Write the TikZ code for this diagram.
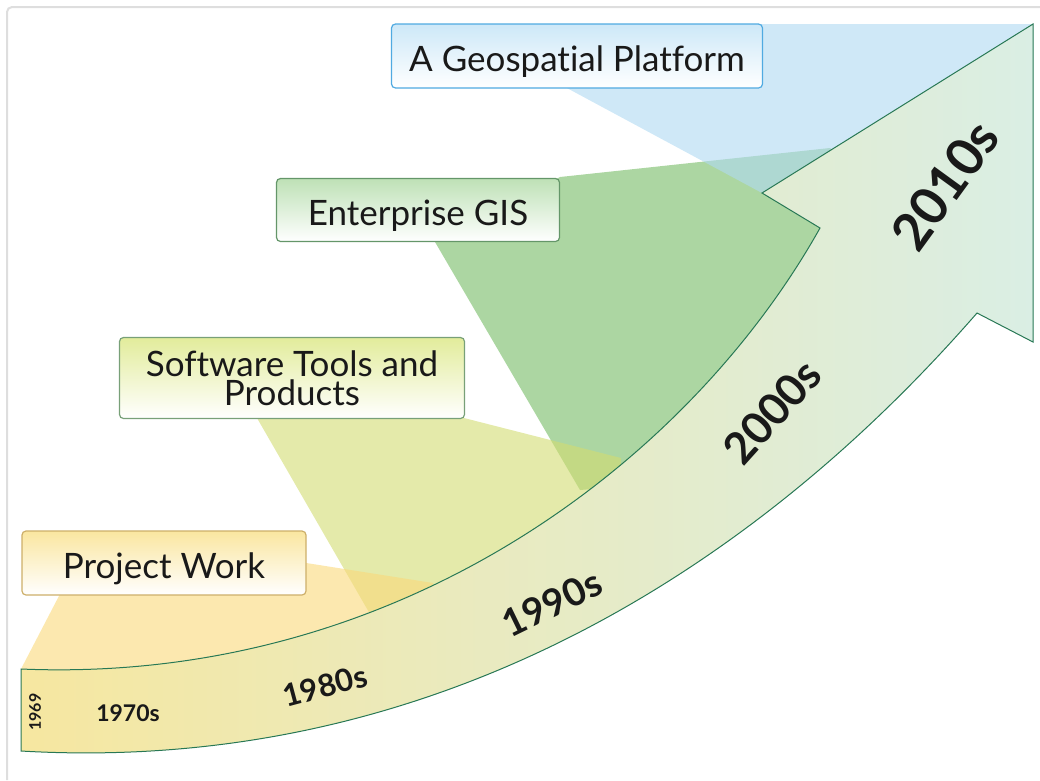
\documentclass[tikz,border=0pt]{standalone}
\usepackage{fontspec}
\setmainfont{Lato}[Ligatures=NoCommon]
\definecolor{framegray}{RGB}{222,222,222}
\definecolor{fanAmber}{RGB}{250,217,122}
\definecolor{fanLime}{RGB}{210,220,113}
\definecolor{fanGreen}{RGB}{117,187,100}
\definecolor{fanBlue}{RGB}{175,217,242}
\definecolor{arrowTail}{RGB}{246,231,160}
\definecolor{arrowMid}{RGB}{233,234,200}
\definecolor{arrowHead}{RGB}{218,238,228}
\definecolor{arrowEdge}{RGB}{40,120,85}
\definecolor{pwEdge}{RGB}{205,175,105}
\definecolor{pwTint}{RGB}{250,230,160}
\definecolor{stpEdge}{RGB}{120,160,120}
\definecolor{stpTint}{RGB}{226,236,155}
\definecolor{egisEdge}{RGB}{100,150,105}
\definecolor{egisTint}{RGB}{190,225,182}
\definecolor{geoEdge}{RGB}{80,170,225}
\definecolor{geoTint}{RGB}{205,232,248}
\tikzset{
	stagebox/.style = {rounded corners=4pt, line width=1.2pt, align=center, inner sep=0pt, text=black!90, font=\fontsize{35}{29}\selectfont},
	oneline/.style = {text height=30pt, text depth=0pt},
	decade/.style = {inner sep=0pt, text=black!90, font=\bfseries\fontsize{#1}{#1}\selectfont},
	fan/.style = {fill opacity=0.6}
}

\begin{document}
\begin{tikzpicture}[x=1pt, y=-1pt]
		\useasboundingbox (0,0) rectangle (1040,780);
		\draw[framegray, line width=2pt, rounded corners=5pt] (7,780) -- (7,7) -- (1040,7);
		% fans, drawn under the arrow
		\fill[fan, fanGreen] (435,242) -- (560,177) -- (830,148) -- (900,200) -- (700,480) -- (580,490) -- cycle;
		\fill[fan, fanBlue] (565,87) -- (762,193) -- (900,200) -- (1033,200) -- (1033,24) -- (762,24) -- cycle;
		\fill[fan, fanLime] (257,418) -- (370,614) -- (400,650) -- (620,520) -- (621,458) -- (464,418) -- cycle;
		\fill[fan, fanAmber] (60,594) -- (21,669) -- (21,720) -- (440,640) -- (433,583) -- (300,562) -- cycle;
		% the arrow
		\shadedraw[left color=arrowTail, middle color=arrowMid, right color=arrowHead, draw=arrowEdge, line width=1pt]
			(21,669) .. controls (400,685) and (690,460) .. (820,228) -- (762,193) -- (1033,24)
			-- (1033,342) -- (977,313) .. controls (840,470) and (520,780) .. (21,751) -- cycle;
		% stages
		\node[stagebox, oneline, draw=pwEdge, top color=pwTint, bottom color=white, minimum width=284pt, minimum height=64pt] (pw) at (164,563) {Project Work};
		\node[stagebox, draw=stpEdge, top color=stpTint, bottom color=white, minimum width=345pt, minimum height=81pt] (stp) at (292,378) {Software Tools and\\Products};
		\node[stagebox, oneline, draw=egisEdge, top color=egisTint, bottom color=white, minimum width=283pt, minimum height=63pt] (egis) at (418,210) {Enterprise GIS};
		\node[stagebox, oneline, draw=geoEdge, top color=geoTint, bottom color=white, minimum width=371pt, minimum height=64pt] (geo) at (577,56) {A Geospatial Platform};
		% decades
		\node[decade=16, rotate=90] (d69) at (35,712) {1969};
		\node[decade=23] (d70) at (128,713) {1970s};
		\node[decade=31, rotate=15] (d80) at (325,686) {1980s};
		\node[decade=38, rotate=26] (d90) at (552,603) {1990s};
		\node[decade=44, rotate=48] (d00) at (772,412) {2000s};
		\node[decade=52, rotate=54] (d10) at (945,185) {2010s};
\end{tikzpicture}
\end{document}
